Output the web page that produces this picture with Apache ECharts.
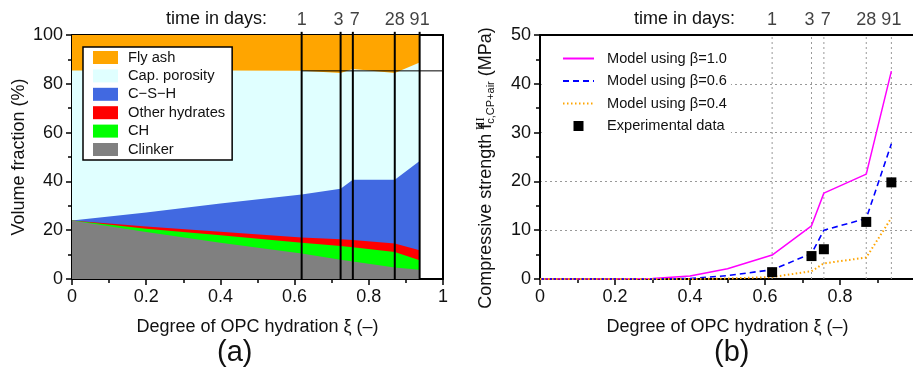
<!DOCTYPE html>
<html>
<head>
<meta charset="utf-8">
<script src="https://cdn.jsdelivr.net/npm/echarts@6/dist/echarts.min.js"></script>
<style>
  html, body { margin: 0; padding: 0; background: #fff; }
  #chart { width: 913px; height: 372px; }
</style>
</head>
<body>
<div id="chart"></div>
<script>
// ---- (a) volume fractions vs. degree of OPC hydration (upper boundary of each phase, %) ----
const xiPhase      = [0, 0.2, 0.4, 0.619, 0.724, 0.757, 0.870, 0.937];
const flyAshTop    = [100, 100, 100, 100, 100, 100, 100, 100];
const porosityTop  = [85.5, 85.5, 85.4, 85.3, 84.4, 86.1, 84.4, 88.7];
const cshTop       = [24.0, 27.3, 30.9, 34.6, 37.0, 40.7, 40.7, 48.4];
const otherHydTop  = [24.0, 21.5, 19.4, 17.0, 16.3, 16.0, 14.5, 11.8];
const chTop        = [24.0, 20.6, 17.9, 14.9, 13.5, 13.0, 11.1, 7.7];
const clinkerTop   = [24.0, 19.3, 14.9, 10.4, 7.9, 7.2, 4.7, 3.8];
const phaseNames   = ['Fly ash', 'Cap. porosity', 'C\u2212S\u2212H', 'Other hydrates', 'CH', 'Clinker'];

// testing ages and the matching degrees of hydration
const ageXi   = [0.619, 0.724, 0.757, 0.870, 0.937];
const ageDays = ['1', '3', '7', '28', '91'];
const initialPorosityLevel = 85.3;

// ---- (b) compressive strength (MPa) ----
const xiModel  = [0, 0.1, 0.2, 0.3, 0.4, 0.5, 0.619, 0.724, 0.757, 0.870, 0.937];
const beta10   = [0, 0, 0, 0.1, 0.6, 2.1, 4.9, 10.9, 17.6, 21.5, 42.6];
const beta06   = [0, 0, 0, 0, 0.1, 0.7, 1.9, 5.2, 10.0, 12.4, 27.7];
const beta04   = [0, 0, 0, 0, 0, 0.1, 0.4, 1.6, 3.2, 4.4, 12.5];
const expXi    = [0.619, 0.724, 0.757, 0.870, 0.937];
const expMPa   = [1.4, 4.7, 6.1, 11.7, 19.8];
const modelNames = ['Model using \u03b2=1.0', 'Model using \u03b2=0.6', 'Model using \u03b2=0.4', 'Experimental data'];

const FONT = '"Liberation Sans", Arial, Helvetica, sans-serif';
const INK = '#111';
const pair = (xs, ys) => xs.map((x, i) => [x, ys[i]]);

const phaseColors = ['#ffa500', '#e0ffff', '#4169e1', '#ff0000', '#00ff00', '#808080'];
const phaseTops = [flyAshTop, porosityTop, cshTop, otherHydTop, chTop, clinkerTop];

const chart = echarts.init(document.getElementById('chart'), null, { renderer: 'canvas' });

function bottomXAxis(gridIndex, showLast) {
  return {
    gridIndex, type: 'value', min: 0, max: 1, interval: 0.2, position: 'bottom',
    name: 'Degree of OPC hydration \u03be (\u2013)', nameLocation: 'middle', nameGap: 39,
    nameTextStyle: { fontSize: 18, color: INK, fontFamily: FONT },
    axisLine: { show: true, onZero: false, lineStyle: { color: '#000', width: 2 } },
    axisTick: { show: true, length: 6, lineStyle: { color: '#000', width: 1.5 } },
    minorTick: { show: true, splitNumber: 2, length: 4, lineStyle: { color: '#000', width: 1.5 } },
    axisLabel: {
      fontSize: 18, color: INK, fontFamily: FONT, margin: 9, hideOverlap: false,
      formatter: v => (v >= 1 && !showLast) ? '' : String(+v.toFixed(1))
    },
    splitLine: { show: false }
  };
}
function frameAxis(gridIndex, position, min, max) {
  return {
    gridIndex, type: 'value', min, max, position,
    axisLine: { show: true, onZero: false, lineStyle: { color: '#000', width: 2 } },
    axisTick: { show: false }, axisLabel: { show: false }, splitLine: { show: false }
  };
}

const series = [];

// phase areas: each boundary filled down to zero, later layers painted over earlier ones
phaseNames.forEach((name, k) => {
  series.push({
    name, type: 'line', xAxisIndex: 0, yAxisIndex: 0,
    data: pair(xiPhase, phaseTops[k]), symbol: 'none', silent: true,
    color: phaseColors[k],
    itemStyle: { color: phaseColors[k] },
    lineStyle: { width: 0, color: phaseColors[k] },
    areaStyle: { color: phaseColors[k], opacity: 1 },
    z: 2 + k * 0.01
  });
});

// initial porosity level carried to the right border
series.push({
  type: 'line', xAxisIndex: 0, yAxisIndex: 0, symbol: 'none', silent: true,
  data: [[ageXi[0], initialPorosityLevel], [1, initialPorosityLevel]],
  lineStyle: { color: '#000', width: 1 }, z: 4
});

// age markers on panel (a)
ageXi.forEach(x => {
  series.push({
    type: 'line', xAxisIndex: 0, yAxisIndex: 0, symbol: 'none', silent: true, clip: false,
    data: [[x, 0], [x, 101.3]], lineStyle: { color: '#000', width: 2 }, z: 5
  });
});

const dayLabelOffsets = [[0, 0], [-2, 0], [2, 0], [0, 0], [0, 0]];
function dayLabels(xAxisIndex, yAxisIndex, yTop) {
  return {
    type: 'scatter', xAxisIndex, yAxisIndex, symbolSize: 0, silent: true, clip: false,
    data: ageXi.map((x, i) => ({
      value: [x, yTop],
      label: { show: true, position: 'top', distance: 6, formatter: ageDays[i], offset: dayLabelOffsets[i],
               fontSize: 18, color: INK, fontFamily: FONT }
    })),
    z: 6
  };
}
series.push(dayLabels(0, 0, 100));

// ---- panel (b) ----
ageXi.forEach(x => {
  series.push({
    type: 'line', xAxisIndex: 2, yAxisIndex: 2, symbol: 'none', silent: true,
    data: [[x, 0], [x, 50]], lineStyle: { color: '#999', width: 1, type: [2, 3] }, z: 1
  });
});
series.push(dayLabels(2, 2, 50));

series.push({
  name: modelNames[0], type: 'line', xAxisIndex: 2, yAxisIndex: 2, symbol: 'none',
  data: pair(xiModel, beta10), color: '#ff00ff',
  lineStyle: { color: '#ff00ff', width: 1.5 }, z: 3
});
series.push({
  name: modelNames[1], type: 'line', xAxisIndex: 2, yAxisIndex: 2, symbol: 'none',
  data: pair(xiModel, beta06), color: '#0000ff',
  lineStyle: { color: '#0000ff', width: 1.6, type: [6, 4] }, z: 3
});
series.push({
  name: modelNames[2], type: 'line', xAxisIndex: 2, yAxisIndex: 2, symbol: 'none',
  data: pair(xiModel, beta04), color: '#ffa500',
  lineStyle: { color: '#ffa500', width: 2, type: [1.5, 2.5] }, z: 3
});
series.push({
  name: modelNames[3], type: 'scatter', xAxisIndex: 2, yAxisIndex: 2,
  symbol: 'rect', symbolSize: 10, data: pair(expXi, expMPa),
  itemStyle: { color: '#000', opacity: 1 }, color: '#000', z: 4
});

const hiddenDot = { color: 'rgba(0,0,0,0)', borderWidth: 0, opacity: 0 };

const option = {
  animation: false,
  backgroundColor: '#fff',
  textStyle: { fontFamily: FONT },
  grid: [
    { left: 72, top: 35, width: 371, height: 244, containLabel: false, outerBoundsMode: 'none' },
    { left: 540, top: 35, width: 375, height: 244, containLabel: false, outerBoundsMode: 'none' }
  ],
  xAxis: [
    bottomXAxis(0, true),
    frameAxis(0, 'top', 0, 1),
    bottomXAxis(1, false),
    frameAxis(1, 'top', 0, 1)
  ],
  yAxis: [
    {
      gridIndex: 0, type: 'value', min: 0, max: 100, interval: 20, position: 'left',
      name: 'Volume fraction (%)', nameLocation: 'middle', nameGap: 44, nameRotate: 90,
      nameTextStyle: { fontSize: 18, color: INK, fontFamily: FONT },
      axisLine: { show: true, onZero: false, lineStyle: { color: '#000', width: 2 } },
      axisTick: { show: true, length: 6, lineStyle: { color: '#000', width: 1.5 } },
      minorTick: { show: true, splitNumber: 2, length: 4, lineStyle: { color: '#000', width: 1.5 } },
      axisLabel: { fontSize: 18, color: INK, fontFamily: FONT, margin: 9 },
      splitLine: { show: false }
    },
    frameAxis(0, 'right', 0, 100),
    {
      gridIndex: 1, type: 'value', min: 0, max: 50, interval: 10, position: 'left',
      name: 'Compressive strength f{sup|III}{sub|c,CP+air} (MPa)',
      nameLocation: 'middle', nameGap: 40, nameRotate: 90,
      nameTextStyle: {
        fontSize: 18, color: INK, fontFamily: FONT, lineHeight: 28, padding: [0, 22, 0, 0],
        rich: {
          sup: { fontSize: 13, fontFamily: '"Liberation Serif", "DejaVu Serif", serif', color: INK,
                 width: 0.01, lineHeight: 28, padding: [0, 0, 11, 0] },
          sub: { fontSize: 11, fontFamily: FONT, color: INK, lineHeight: 28, padding: [9, 0, 0, 0] }
        }
      },
      axisLine: { show: true, onZero: false, lineStyle: { color: '#000', width: 2 } },
      axisTick: { show: true, length: 6, lineStyle: { color: '#000', width: 1.5 } },
      minorTick: { show: true, splitNumber: 2, length: 4, lineStyle: { color: '#000', width: 1.5 } },
      axisLabel: { fontSize: 18, color: INK, fontFamily: FONT, margin: 9 },
      splitLine: { show: true, lineStyle: { color: '#999', width: 1, type: [2, 3] } }
    }
  ],
  legend: [
    {
      orient: 'vertical', left: 83, top: 47, padding: [3, 7, 3, 10],
      borderColor: '#000', borderWidth: 1.5, backgroundColor: '#fff',
      itemWidth: 25, itemHeight: 13, itemGap: 3.4, selectedMode: false,
      textStyle: { fontSize: 14.7, lineHeight: 14, color: INK, fontFamily: FONT, padding: [0, 0, 0, 5] },
      data: phaseNames.map(n => ({ name: n, icon: 'rect' }))
    },
    {
      orient: 'vertical', left: 545, top: 42, padding: [9, 4, 10, 17],
      backgroundColor: '#fff', borderWidth: 0,
      itemWidth: 31, itemHeight: 10, itemGap: 7.5, selectedMode: false,
      textStyle: { fontSize: 14.6, lineHeight: 15, color: INK, fontFamily: FONT, padding: [0, 0, 0, 8] },
      data: [
        { name: modelNames[0], itemStyle: hiddenDot },
        { name: modelNames[1], itemStyle: hiddenDot },
        { name: modelNames[2], itemStyle: hiddenDot },
        { name: modelNames[3], icon: 'path://M0,0H10V10H0Z', itemStyle: { color: '#000', opacity: 1 } }
      ]
    }
  ],
  graphic: [
    { type: 'text', left: 166, top: 10, style: { text: 'time in days:', fontSize: 18, fill: INK, fontFamily: FONT } },
    { type: 'text', left: 634, top: 10, style: { text: 'time in days:', fontSize: 18, fill: INK, fontFamily: FONT } },
    { type: 'text', left: 217, top: 338, style: { text: '(a)', fontSize: 29, fill: INK, fontFamily: FONT } },
    { type: 'text', left: 714, top: 338, style: { text: '(b)', fontSize: 29, fill: INK, fontFamily: FONT } }
  ],
  series
};

chart.setOption(option);
</script>
</body>
</html>
